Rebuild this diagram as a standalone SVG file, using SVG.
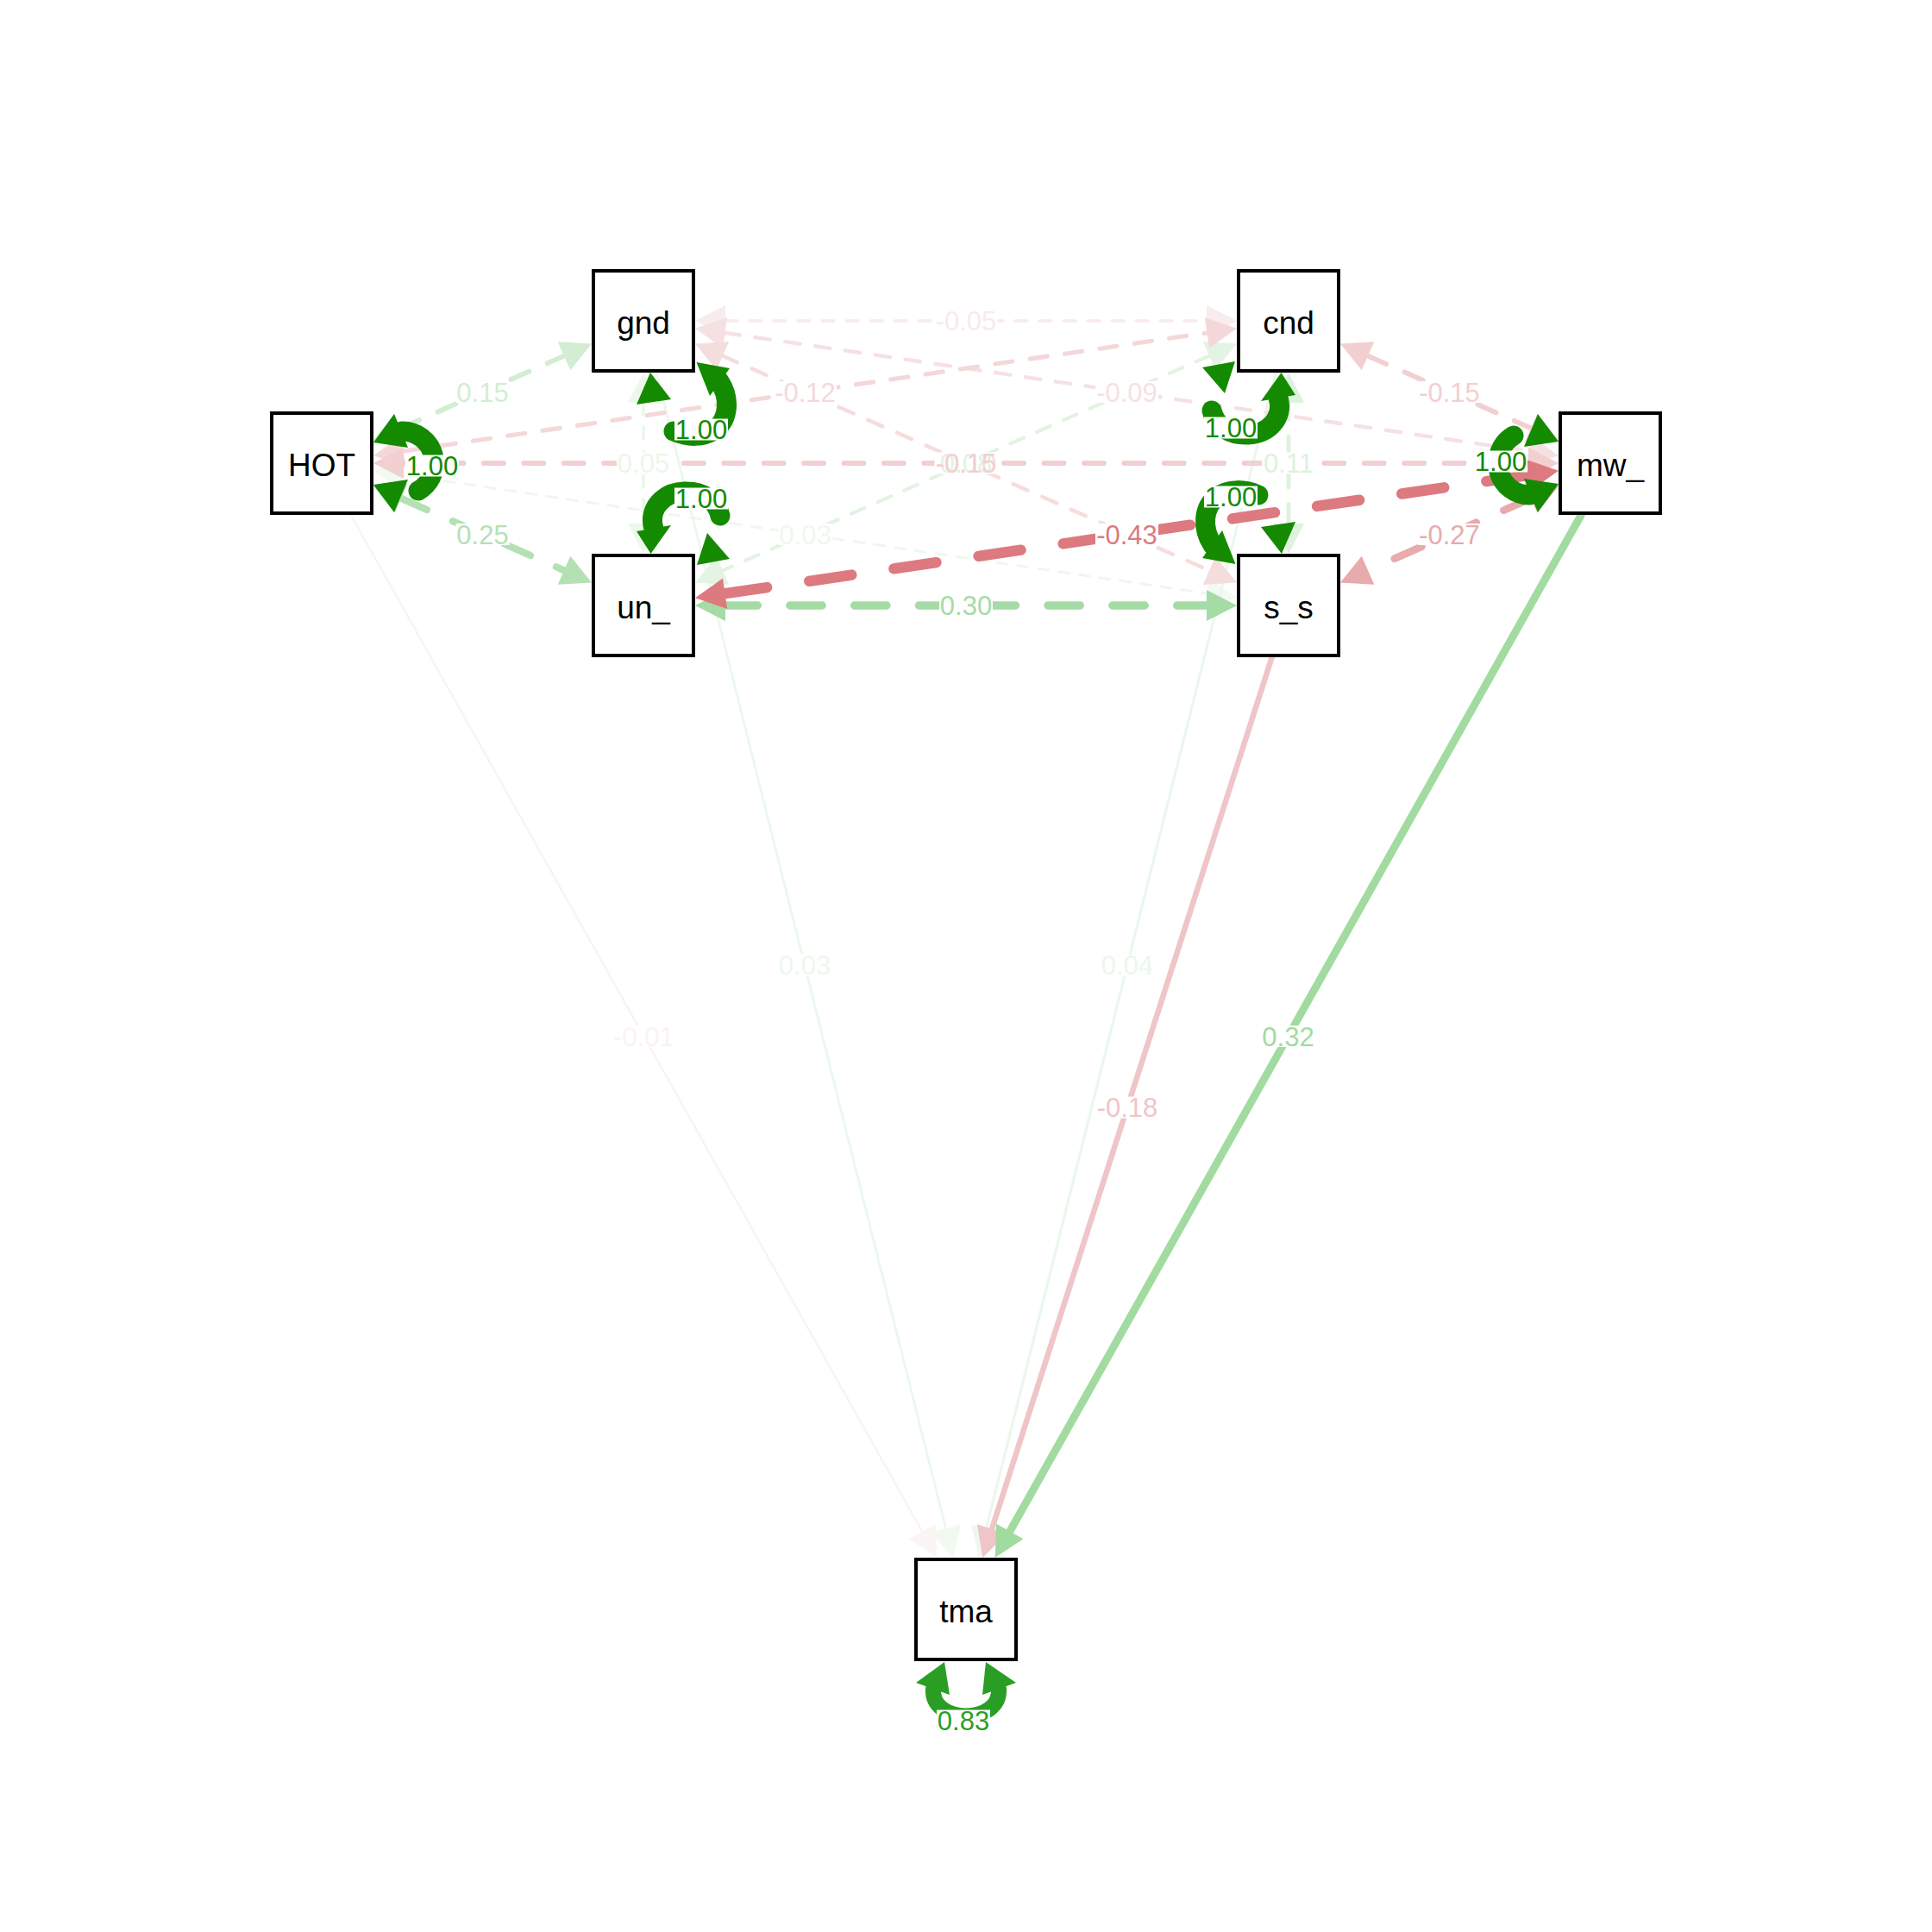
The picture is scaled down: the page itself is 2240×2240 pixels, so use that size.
<svg xmlns="http://www.w3.org/2000/svg" width="2240" height="2240" viewBox="0 0 2240 2240">
<style>
.node rect{fill:#fff;stroke:#000;stroke-width:4}
.node text{font-family:"Liberation Sans",Arial,sans-serif;font-size:37px;text-anchor:middle;fill:#000}
.e{fill:none;stroke-linecap:round}
.lbl{font-family:"Liberation Sans",Arial,sans-serif;font-size:31px;text-anchor:middle}
.bg{fill:#fff}
.loop{fill:none;stroke:#148A00;stroke-width:23;stroke-linecap:round}
.la{fill:#148A00}
</style>
<rect width="2240" height="2240" fill="#fff"/>
<g id="connectors">
<g id="e-HOT-tma"><line class="e" x1="406.7" y1="597" x2="1069.2" y2="1775.5" stroke="#FBF3F3" stroke-width="2.5"/><polygon points="1086.3,1806 1084.9,1766.7 1053.5,1784.3" fill="#FBF5F5"/></g>
<g id="e-HOT-s_s"><line class="e" x1="467.6" y1="550.8" x2="1399.4" y2="688.2" stroke="#EEF8EE" stroke-width="3" stroke-dasharray="12 12"/><polygon points="1434,693.3 1396.8,706 1402,670.4" fill="#F2FAF2"/><polygon points="433,545.7 465,568.6 470.2,533" fill="#F2FAF2"/></g>
<g id="e-gnd-tma"><line class="e" x1="761" y1="432" x2="1096.5" y2="1772" stroke="#EDF8ED" stroke-width="3"/><polygon points="1105,1806 1114,1767.6 1079,1776.4" fill="#F1F9F1"/></g>
<g id="e-cnd-tma"><line class="e" x1="1479" y1="432" x2="1143.5" y2="1772" stroke="#EBF7EB" stroke-width="3.2"/><polygon points="1135,1806 1161,1776.4 1126,1767.6" fill="#EEF8EE"/></g>
<g id="e-gnd-cnd"><line class="e" x1="841" y1="372" x2="1399" y2="372" stroke="#F8EAEB" stroke-width="3.5" stroke-dasharray="14 14"/><polygon points="1434,372 1399,354 1399,390" fill="#F9ECED"/><polygon points="806,372 841,354 841,390" fill="#F9ECED"/></g>
<g id="e-gnd-un_"><line class="e" x1="746" y1="467" x2="746" y2="607" stroke="#EAF7EA" stroke-width="3.5" stroke-dasharray="14 14"/><polygon points="746,642 728,607 764,607" fill="#EDF8ED"/><polygon points="746,432 728,467 764,467" fill="#EDF8ED"/></g>
<g id="e-cnd-un_"><line class="e" x1="1402" y1="412.6" x2="838" y2="661.4" stroke="#E2F3E2" stroke-width="4.2" stroke-dasharray="16.8 16.8"/><polygon points="806,675.5 845.3,677.9 830.7,644.9" fill="#E4F4E4"/><polygon points="1434,398.5 1409.3,429.1 1394.7,396.1" fill="#E4F4E4"/></g>
<g id="e-gnd-mw_"><line class="e" x1="840.6" y1="385.9" x2="1772.4" y2="523.1" stroke="#F6E1E2" stroke-width="4.4" stroke-dasharray="17.6 17.6"/><polygon points="1807,528.2 1769.8,540.9 1775,505.3" fill="#F6E1E2"/><polygon points="806,380.8 838,403.7 843.2,368.1" fill="#F6E1E2"/></g>
<g id="e-gnd-s_s"><line class="e" x1="838" y1="412.6" x2="1402" y2="661.4" stroke="#F5DDDE" stroke-width="4.6" stroke-dasharray="18.4 18.4"/><polygon points="1434,675.5 1394.7,677.9 1409.3,644.9" fill="#F5DDDE"/><polygon points="806,398.5 830.7,429.1 845.3,396.1" fill="#F5DDDE"/></g>
<g id="e-cnd-s_s"><line class="e" x1="1494" y1="467" x2="1494" y2="607" stroke="#DEF2DE" stroke-width="4.9" stroke-dasharray="19.6 19.6"/><polygon points="1494,642 1476,607 1512,607" fill="#DEF2DE"/><polygon points="1494,432 1476,467 1512,467" fill="#DEF2DE"/></g>
<g id="e-HOT-cnd"><line class="e" x1="467.6" y1="523.1" x2="1399.4" y2="385.9" stroke="#F4D8D9" stroke-width="5.1" stroke-dasharray="20.4 20.4"/><polygon points="1434,380.8 1402,403.7 1396.8,368.1" fill="#F4D8D9"/><polygon points="433,528.2 470.2,540.9 465,505.3" fill="#F4D8D9"/></g>
<g id="e-HOT-gnd"><line class="e" x1="465" y1="496.3" x2="654" y2="412.7" stroke="#D2EDD2" stroke-width="5.8" stroke-dasharray="23.2 23.2"/><polygon points="686,398.5 661.3,429.2 646.7,396.2" fill="#D2EDD2"/><polygon points="433,510.5 472.3,512.8 457.7,479.8" fill="#D2EDD2"/></g>
<g id="e-HOT-mw_"><line class="e" x1="468" y1="537" x2="1772" y2="537" stroke="#F2CFD0" stroke-width="5.8" stroke-dasharray="23.2 23.2"/><polygon points="1807,537 1772,519 1772,555" fill="#F2CFD0"/><polygon points="433,537 468,519 468,555" fill="#F2CFD0"/></g>
<g id="e-cnd-mw_"><line class="e" x1="1586" y1="412.7" x2="1775" y2="496.3" stroke="#F2CFD0" stroke-width="5.8" stroke-dasharray="23.2 23.2"/><polygon points="1807,510.5 1767.7,512.8 1782.3,479.8" fill="#F2CFD0"/><polygon points="1554,398.5 1578.7,429.2 1593.3,396.2" fill="#F2CFD0"/></g>
<g id="e-s_s-tma"><line class="e" x1="1474.7" y1="762" x2="1150" y2="1772.7" stroke="#EFC5C7" stroke-width="6.5"/><polygon points="1139.3,1806 1167.1,1778.2 1132.9,1767.2" fill="#EFC5C7"/></g>
<g id="e-HOT-un_"><line class="e" x1="465" y1="577.7" x2="654" y2="661.3" stroke="#B4E1B4" stroke-width="8.2" stroke-dasharray="32.8 32.8"/><polygon points="686,675.5 646.7,677.8 661.3,644.8" fill="#B4E1B4"/><polygon points="433,563.5 457.7,594.2 472.3,561.2" fill="#B4E1B4"/></g>
<g id="e-mw_-s_s"><line class="e" x1="1775" y1="577.7" x2="1586" y2="661.3" stroke="#E8AAAD" stroke-width="8.65" stroke-dasharray="34.6 34.6"/><polygon points="1554,675.5 1593.3,677.8 1578.7,644.8" fill="#E8AAAD"/><polygon points="1807,563.5 1782.3,594.2 1767.7,561.2" fill="#E8AAAD"/></g>
<g id="e-un_-s_s"><line class="e" x1="841" y1="702" x2="1399" y2="702" stroke="#A5DBA5" stroke-width="9.35" stroke-dasharray="37.4 37.4"/><polygon points="1434,702 1399,684 1399,720" fill="#A5DBA5"/><polygon points="806,702 841,684 841,720" fill="#A5DBA5"/></g>
<g id="e-mw_-tma"><line class="e" x1="1833.3" y1="597" x2="1170.8" y2="1775.5" stroke="#A2DB9F" stroke-width="9"/><polygon points="1153.7,1806 1186.5,1784.3 1155.1,1766.7" fill="#A2DB9F"/></g>
<g id="e-mw_-un_"><line class="e" x1="1772.4" y1="550.8" x2="840.6" y2="688.2" stroke="#DC7A80" stroke-width="12.4" stroke-dasharray="49.6 49.6"/><polygon points="806,693.3 843.2,706 838,670.4" fill="#DC7A80"/><polygon points="1807,545.7 1775,568.6 1769.8,533" fill="#DC7A80"/></g>
<g id="loop-HOT"><polygon class="la" points="433,513 457,480 473,519"/><path class="loop" d="M466,500 A37 37 0 0 1 485,569"/><polygon class="la" points="433,562 473,556 457,594"/></g>
<g id="loop-gnd"><polygon class="la" points="807.5,420 846,427 823,459"/><path class="loop" d="M834,442 C847,462 845,486 829,498 C815,508 797,507 781,500"/><polygon class="la" points="754,432 738,469 778,463"/></g>
<g id="loop-un_"><polygon class="la" points="754.5,642 738,616 778,609"/><path class="loop" d="M758,613 C751,590 769,571 793,570 C816,569 831,581 835,598"/><polygon class="la" points="808,655 846,648 820,618"/></g>
<g id="loop-mw_" transform="rotate(180 1120 537)"><polygon class="la" points="433,513 457,480 473,519"/><path class="loop" d="M466,500 A37 37 0 0 1 485,569"/><polygon class="la" points="433,562 473,556 457,594"/></g>
<g id="loop-s_s" transform="rotate(180 1120 537)"><polygon class="la" points="807.5,420 846,427 823,459"/><path class="loop" d="M834,442 C847,462 845,486 829,498 C815,508 797,507 781,500"/><polygon class="la" points="754,432 738,469 778,463"/></g>
<g id="loop-cnd" transform="rotate(180 1120 537)"><polygon class="la" points="754.5,642 738,616 778,609"/><path class="loop" d="M758,613 C751,590 769,571 793,570 C816,569 831,581 835,598"/><polygon class="la" points="808,655 846,648 820,618"/></g>
<g id="loop-tma"><polygon points="1095,1927 1062,1951 1101,1965" fill="#2A9E24"/><polygon points="1143,1927 1178,1951 1139,1965" fill="#2A9E24"/><path d="M1082,1958 C1079,2000 1161,2000 1158,1958" fill="none" stroke="#2A9E24" stroke-width="18" stroke-linecap="round"/></g>
<g class="bg">
<rect x="528.5" y="442" width="62" height="25"/>
<rect x="528.5" y="607" width="62" height="25"/>
<rect x="897" y="442" width="73" height="25"/>
<rect x="1083.5" y="524.5" width="73" height="25"/>
<rect x="902.5" y="607" width="62" height="25"/>
<rect x="1083.5" y="359.5" width="73" height="25"/>
<rect x="1270" y="442" width="73" height="25"/>
<rect x="715" y="524.5" width="62" height="25"/>
<rect x="1644" y="442" width="73" height="25"/>
<rect x="1463" y="524.5" width="62" height="25"/>
<rect x="1270" y="607" width="73" height="25"/>
<rect x="1644" y="607" width="73" height="25"/>
<rect x="1089" y="689.5" width="62" height="25"/>
<rect x="710" y="1189" width="73" height="25"/>
<rect x="902" y="1106.5" width="62" height="25"/>
<rect x="1276" y="1106.5" width="62" height="25"/>
<rect x="1270.5" y="1271.5" width="73" height="25"/>
<rect x="1462.5" y="1189" width="62" height="25"/>
<rect x="470" y="527.5" width="62" height="25"/>
<rect x="782" y="485.5" width="62" height="25"/>
<rect x="782" y="565.5" width="62" height="25"/>
<rect x="1396" y="483.5" width="62" height="25"/>
<rect x="1396" y="563.5" width="62" height="25"/>
<rect x="1709" y="522.5" width="62" height="25"/>
<rect x="1086" y="1982.5" width="62" height="25"/>
</g>
</g>
<g id="labels" class="lbl">
<text x="559.5" y="465.5" fill="#D2EDD2">0.15</text>
<text x="559.5" y="630.5" fill="#B4E1B4">0.25</text>
<text x="933.5" y="465.5" fill="#F4D8D9">-0.12</text>
<text x="933.5" y="630.5" fill="#EEF8EE">0.03</text>
<text x="1120" y="383" fill="#F8EAEB">-0.05</text>
<text x="1306.5" y="465.5" fill="#F6E1E2">-0.09</text>
<text x="746" y="548" fill="#EAF7EA">0.05</text>
<text x="1120" y="548" fill="#F5DDDE">-0.10</text>
<text x="1120" y="548" fill="#E2F3E2">0.08</text>
<text x="1120" y="548" fill="#F2CFD0">-0.15</text>
<text x="1680.5" y="465.5" fill="#F2CFD0">-0.15</text>
<text x="1494" y="548" fill="#DEF2DE">0.11</text>
<text x="1306.5" y="630.5" fill="#DC7A80">-0.43</text>
<text x="1680.5" y="630.5" fill="#E8AAAD">-0.27</text>
<text x="1120" y="713" fill="#A5DBA5">0.30</text>
<text x="746.5" y="1212.5" fill="#FBF3F3">-0.01</text>
<text x="933" y="1130" fill="#EDF8ED">0.03</text>
<text x="1307" y="1130" fill="#EBF7EB">0.04</text>
<text x="1307" y="1295" fill="#EFC5C7">-0.18</text>
<text x="1493.5" y="1212.5" fill="#A2DB9F">0.32</text>
<text x="501" y="551" fill="#148A00">1.00</text>
<text x="813" y="509" fill="#148A00">1.00</text>
<text x="813" y="589" fill="#148A00">1.00</text>
<text x="1427" y="507" fill="#148A00">1.00</text>
<text x="1427" y="587" fill="#148A00">1.00</text>
<text x="1740" y="546" fill="#148A00">1.00</text>
<text x="1117" y="2006" fill="#2A9E24">0.83</text>
</g>
<g id="node-HOT" class="node"><rect x="315" y="479" width="116" height="116"/><text x="373" y="552">HOT</text></g>
<g id="node-gnd" class="node"><rect x="688" y="314" width="116" height="116"/><text x="746" y="387">gnd</text></g>
<g id="node-cnd" class="node"><rect x="1436" y="314" width="116" height="116"/><text x="1494" y="387">cnd</text></g>
<g id="node-mw_" class="node"><rect x="1809" y="479" width="116" height="116"/><text x="1867" y="552">mw_</text></g>
<g id="node-un_" class="node"><rect x="688" y="644" width="116" height="116"/><text x="746" y="717">un_</text></g>
<g id="node-s_s" class="node"><rect x="1436" y="644" width="116" height="116"/><text x="1494" y="717">s_s</text></g>
<g id="node-tma" class="node"><rect x="1062" y="1808" width="116" height="116"/><text x="1120" y="1881">tma</text></g>
</svg>
